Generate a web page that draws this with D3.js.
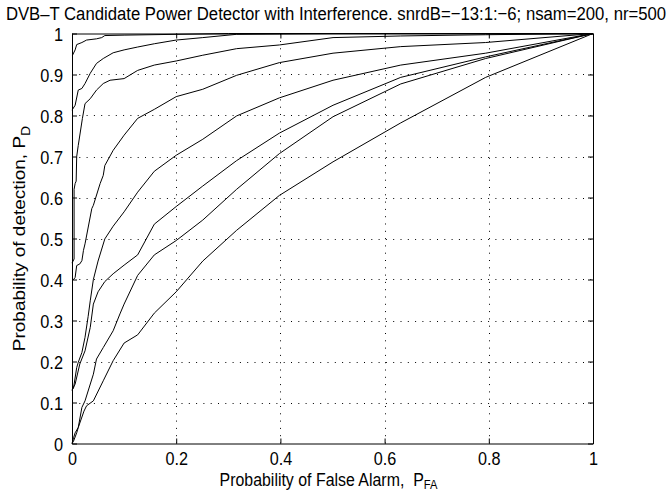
<!DOCTYPE html>
<html><head><meta charset="utf-8">
<script src="https://cdn.jsdelivr.net/npm/d3@7"></script>
<style>
body{margin:0;background:#fff}
svg text{font-family:"Liberation Sans",Arial,Helvetica,sans-serif;fill:#000}
</style>
</head><body>
<svg id="chart" width="669" height="492"></svg>
<script>
const titleText = "DVB\u2013T Candidate Power Detector with Interference. snrdB=\u221213:1:\u22126; nsam=200, nr=500";
const xLabelMain = "Probability of False Alarm,\u00a0\u00a0P";
const xLabelSub = "FA";
const yLabelMain = "Probability of detection, P";
const yLabelSub = "D";
const xTicks = [0, 0.2, 0.4, 0.6, 0.8, 1];
const xTickLabels = ["0", "0.2", "0.4", "0.6", "0.8", "1"];
const yTicks = [0, 0.1, 0.2, 0.3, 0.4, 0.5, 0.6, 0.7, 0.8, 0.9, 1];
const yTickLabels = ["0", "0.1", "0.2", "0.3", "0.4", "0.5", "0.6", "0.7", "0.8", "0.9", "1"];
const snrdB = [-13, -12, -11, -10, -9, -8, -7, -6];

const pfa_m13 = [0, .003, .009, .012, .023, .028, .041, .06, .079, .1, .126, .158, .2, .251, .316, .398, .501, .631, .794, 1];
const pd_m13  = [0, .006, .026, .039, .079, .092, .104, .153, .202, .245, .265, .318, .37, .445, .52, .605, .687, .782, .893, 1];
const pfa_m12 = [0, .003, .006, .012, .019, .025, .041, .047, .06, .079, .092, .1, .126, .158, .2, .251, .316, .398, .501, .631, .794, 1];
const pd_m12  = [0, .014, .026, .039, .088, .104, .169, .206, .234, .275, .316, .34, .41, .46, .495, .545, .62, .707, .797, .877, .939, 1];
const pfa_m11 = [0, .006, .015, .025, .035, .041, .05, .063, .079, .1, .126, .158, .2, .251, .316, .398, .501, .631, .794, 1];
const pd_m11  = [.13, .145, .194, .226, .283, .34, .37, .395, .414, .435, .46, .535, .578, .628, .69, .757, .825, .893, .943, 1];
const pfa_m10 = [0, .003, .009, .012, .019, .025, .031, .035, .041, .05, .063, .079, .1, .126, .158, .2, .251, .316, .398, .501, .631, .794, 1];
const pd_m10  = [.13, .136, .185, .198, .222, .259, .31, .348, .40, .445, .499, .53, .565, .613, .664, .703, .742, .799, .843, .886, .923, .952, 1];
const pfa_m9  = [0, .003, .006, .009, .015, .019, .022, .025, .038, .041, .054, .06, .063, .079, .1, .126, .158, .2, .251, .316, .398, .501, .631, .794, 1];
const pd_m9   = [.40, .40, .405, .434, .438, .446, .471, .487, .573, .581, .634, .654, .678, .715, .752, .793, .815, .846, .864, .898, .929, .952, .968, .978, 1];
const pfa_m8  = [0, .004, .004, .006, .008, .009, .012, .02, .025, .035, .047, .06, .073, .1, .126, .158, .2, .251, .316, .398, .501, .631, .794, 1];
const pd_m8   = [.44, .45, .62, .634, .64, .70, .727, .793, .829, .841, .862, .878, .886, .890, .91, .923, .933, .947, .963, .972, .99, .994, .997, 1];
const pfa_m7  = [0, .006, .012, .019, .025, .035, .047, .06, .079, .1, .126, .158, .2, .251, .316, .398, .501, 1];
const pd_m7   = [.813, .825, .862, .866, .878, .903, .927, .939, .953, .96, .967, .975, .984, .99, .998, .999, 1, 1];
const pfa_m6  = [0, .001, .006, .009, .019, .028, .047, .057, .063, .1, .2, .3, 1];
const pd_m6   = [.947, .947, .96, .973, .978, .984, .987, .99, .995, .996, .998, 1, 1];

const seriesPfa = [pfa_m13, pfa_m12, pfa_m11, pfa_m10, pfa_m9, pfa_m8, pfa_m7, pfa_m6];
const seriesPd  = [pd_m13, pd_m12, pd_m11, pd_m10, pd_m9, pd_m8, pd_m7, pd_m6];
const series = snrdB.map((s, i) => ({snr: s, pts: seriesPfa[i].map((p, j) => [p, seriesPd[i][j]])}));

(function draw() {
const svg = d3.select("#chart");
const L = 72, R = 593, T = 33.5, B = 443.5;
const x = d3.scaleLinear().domain([0, 1]).range([L, R]);
const y = d3.scaleLinear().domain([0, 1]).range([B, T]);
const FS = 19, SX = 0.86;

// grid
const grid = svg.append("g").attr("stroke", "#000").attr("stroke-width", 1).attr("stroke-dasharray", "1,6.3");
grid.selectAll(".gx").data(xTicks.slice(1, -1)).join("line")
  .attr("x1", d => Math.round(x(d)) + 0.5).attr("x2", d => Math.round(x(d)) + 0.5)
  .attr("y1", B).attr("y2", T);
grid.selectAll(".gy").data(yTicks.slice(1, -1)).join("line")
  .attr("y1", d => Math.round(y(d)) + 0.5).attr("y2", d => Math.round(y(d)) + 0.5)
  .attr("x1", L).attr("x2", R);

// curves
const line = d3.line().x(d => x(d[0])).y(d => y(d[1]));
svg.append("g").selectAll("path").data(series).join("path")
  .attr("d", d => line(d.pts)).attr("fill", "none").attr("stroke", "#000").attr("stroke-width", 1);

// axes
const ax = svg.append("g");
const axB = ax.append("g").attr("transform", `translate(0,${B})`)
  .call(d3.axisBottom(x).tickValues(xTicks).tickFormat((d, i) => xTickLabels[i]).tickSizeInner(-5).tickSizeOuter(0));
ax.append("g").attr("transform", `translate(0,${T})`)
  .call(d3.axisTop(x).tickValues(xTicks).tickFormat("").tickSizeInner(-5).tickSizeOuter(0));
const axL = ax.append("g").attr("transform", `translate(${L},0)`)
  .call(d3.axisLeft(y).tickValues(yTicks).tickFormat((d, i) => yTickLabels[i]).tickSizeInner(-5).tickSizeOuter(0));
ax.append("g").attr("transform", `translate(${R},0)`)
  .call(d3.axisRight(y).tickValues(yTicks).tickFormat("").tickSizeInner(-5).tickSizeOuter(0));
ax.selectAll(".domain").attr("stroke", "#000").attr("stroke-width", 1);
ax.selectAll(".tick line").attr("stroke", "#000");
ax.selectAll(".tick text").attr("font-family", null);
axB.selectAll(".tick text").attr("font-size", 18).attr("y", null).attr("dy", null)
  .attr("transform", `translate(0,${465 - B}) scale(0.9,1)`);
axL.selectAll(".tick text").attr("font-size", FS).attr("x", null).attr("dy", "0.35em")
  .attr("transform", `translate(-9,0) scale(${SX},1)`);

// title & labels
svg.append("text").attr("transform", `translate(336,20) scale(0.88,1)`)
  .attr("text-anchor", "middle").attr("font-size", FS).text(titleText);

const xl = svg.append("text").attr("transform", `translate(${(L + R) / 2 - 4},485.5) scale(${SX},1)`)
  .attr("text-anchor", "middle").attr("font-size", 18.5);
xl.append("tspan").text(xLabelMain);
xl.append("tspan").attr("dy", 3.5).attr("font-size", 13).text(xLabelSub);

const yl = svg.append("text").attr("transform", `translate(25,${(T + B) / 2}) scale(${SX},1) rotate(-90)`)
  .attr("text-anchor", "middle").attr("font-size", FS);
yl.append("tspan").text(yLabelMain);
yl.append("tspan").attr("dy", 6).attr("font-size", 14).text(yLabelSub);
})();
</script>
</body></html>
